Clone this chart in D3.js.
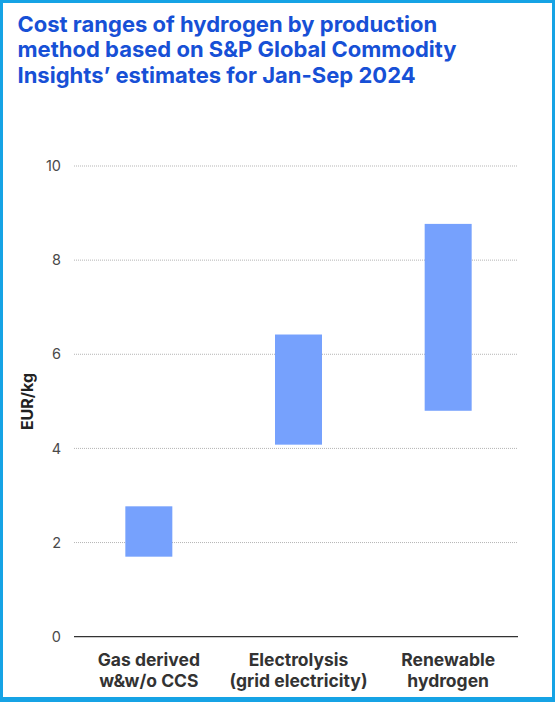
<!DOCTYPE html>
<html>
<head>
<meta charset="utf-8">
<script src="https://cdn.jsdelivr.net/npm/d3@7"></script>
<style>
  html, body { margin: 0; padding: 0; background: #fff; }
  svg { display: block; font-family: Inter, "Noto Sans", sans-serif; }
</style>
</head>
<body>
<svg id="chart" width="555" height="702"></svg>
<script>
// ---- data ----
const titleLines = [
  "Cost ranges of hydrogen by production",
  "method based on S&P Global Commodity",
  "Insights\u2019 estimates for Jan-Sep 2024"
];
const categories = ["Gas derived\nw&w/o CCS", "Electrolysis\n(grid electricity)", "Renewable\nhydrogen"];
const lowValues  = [1.70, 4.08, 4.80];
const highValues = [2.77, 6.42, 8.77];
const yTicks = [0, 2, 4, 6, 8, 10];
const yLabel = "EUR/kg";

const data = categories.map((c, i) => ({ cat: c, lo: lowValues[i], hi: highValues[i] }));

// ---- layout ----
const W = 555, H = 702;
const svg = d3.select("#chart");

// frame
svg.append("rect").attr("x", 0).attr("y", 0).attr("width", W).attr("height", H).attr("fill", "#16a3e5");
svg.append("rect").attr("x", 3).attr("y", 3).attr("width", W - 6).attr("height", H - 8).attr("fill", "#fff");

// title
svg.append("g").selectAll("text").data(titleLines).join("text")
  .attr("x", 17.5)
  .attr("y", (d, i) => 32 + i * 25.3)
  .attr("fill", "#1750d6")
  .attr("font-size", 22)
  .attr("font-weight", 700)
  .text(d => d);

const plotLeft = 74, plotRight = 518;
const y = d3.scaleLinear().domain([0, 10]).range([636.7, 166]);
const x = d3.scaleBand().domain(categories).range([74, 523]).paddingInner(0.686).paddingOuter(0.343);

// gridlines
svg.append("g").selectAll("line").data(yTicks.filter(t => t !== 0)).join("line")
  .attr("x1", plotLeft).attr("x2", plotRight)
  .attr("y1", d => y(d)).attr("y2", d => y(d))
  .attr("stroke", "#b5b5b5").attr("stroke-width", 1)
  .attr("stroke-dasharray", "1,1");

// y axis labels
const yAxis = d3.axisLeft(y).tickValues(yTicks).tickSize(0).tickPadding(0).tickFormat(d3.format("d"));
const yg = svg.append("g").attr("transform", "translate(61,0)").call(yAxis);
yg.select(".domain").remove();
yg.selectAll("text").attr("font-size", 14.5).attr("fill", "#4a4a4a")
  .attr("font-family", "Inter, sans-serif");

// bars
svg.append("g").selectAll("rect").data(data).join("rect")
  .attr("x", d => x(d.cat))
  .attr("width", x.bandwidth())
  .attr("y", d => y(d.hi))
  .attr("height", d => y(d.lo) - y(d.hi))
  .attr("fill", "#76a1fd");

// baseline
svg.append("line")
  .attr("x1", plotLeft).attr("x2", plotRight)
  .attr("y1", y(0)).attr("y2", y(0))
  .attr("stroke", "#333").attr("stroke-width", 1.3);

// x labels
const xl = svg.append("g").selectAll("text").data(categories).join("text")
  .attr("x", d => x(d) + x.bandwidth() / 2)
  .attr("y", 666)
  .attr("text-anchor", "middle")
  .attr("font-size", 17.5)
  .attr("font-weight", 700)
  .attr("fill", "#333");
xl.selectAll("tspan").data(d => d.split("\n")).join("tspan")
  .attr("x", function() { return d3.select(this.parentNode).attr("x"); })
  .attr("dy", (d, i) => i === 0 ? 0 : 21)
  .text(d => d);

// y label
svg.append("text")
  .attr("transform", "translate(32.5,401.5) rotate(-90)")
  .attr("text-anchor", "middle")
  .attr("font-size", 16)
  .attr("font-weight", 700)
  .attr("fill", "#222")
  .text(yLabel);
</script>
</body>
</html>
